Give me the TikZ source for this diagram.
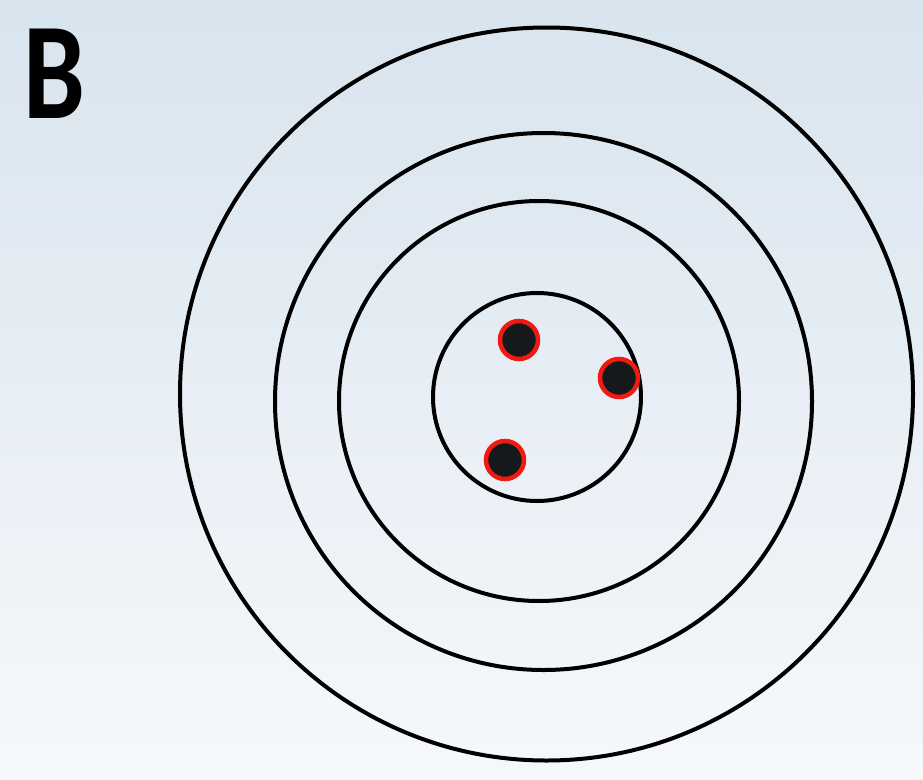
\documentclass[tikz,border=0pt]{standalone}
\usepackage{fontspec}
\newfontfamily\labelfont{Carlito}
\definecolor{bgtop}{HTML}{D8E4EE}
\definecolor{bgbot}{HTML}{F6F8FB}
\definecolor{dotred}{HTML}{F01A12}
\definecolor{dotblack}{HTML}{15191C}
\tikzset{
  ring/.style={circle, draw=black, line width=4pt, inner sep=0pt, fill=none},
  hit/.style={circle, draw=dotred, fill=dotblack, line width=4.5pt, inner sep=0pt, minimum size=38pt},
  panel/.style={font=\labelfont\bfseries\fontsize{138}{138}\selectfont, inner sep=0pt, anchor=base west, xscale=0.8}
}
\begin{document}
\begin{tikzpicture}[x=1pt,y=-1pt]
  \useasboundingbox (0,0) rectangle (923,779);
  \shade[top color=bgtop, bottom color=bgbot] (0,0) rectangle (923,779);
  \node[ring, minimum size=733pt] (r4) at (546.5,394) {};
  \node[ring, minimum size=537pt] (r3) at (543.5,401.5) {};
  \node[ring, minimum size=400pt] (r2) at (539,401) {};
  \node[ring, minimum size=208pt] (r1) at (537,397) {};
  \node[hit] (h1) at (519,340) {};
  \node[hit] (h2) at (619,378) {};
  \node[hit] (h3) at (505,460) {};
  \node[panel] (lbl) at (23,118) {B};
\end{tikzpicture}
\end{document}
